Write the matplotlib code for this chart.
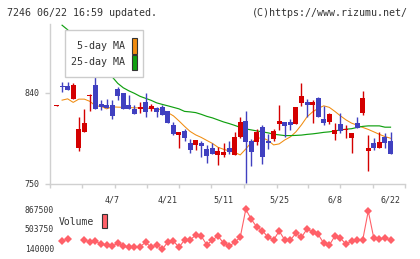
import numpy as np
import matplotlib
matplotlib.use("Agg")
import matplotlib.pyplot as plt
from matplotlib.patches import Rectangle

# ── datos (61 sesiones, 3/24 .. 6/22) ────────────────────────────
opens = [827.5, 847.2, 847.2, 834.4, 785.3, 801.2, 837.0, 847.9, 828.8, 828.4,
         827.9, 844.0, 840.0, 828.2, 824.5, 823.9, 830.8, 824.5, 825.2, 826.2,
         822.2, 808.4, 798.8, 802.4, 790.9, 788.3, 790.6, 784.6, 785.6, 779.0,
         779.0, 785.6, 779.0, 796.2, 812.3, 792.5, 791.6, 806.4, 792.5, 794.8,
         809.7, 811.3, 811.3, 809.7, 829.6, 831.1, 828.5, 835.0, 814.3, 811.6,
         799.8, 809.4, 803.1, 795.5, 810.6, 820.5, 783.0, 790.6, 786.0, 796.5,
         792.5]
highs = [828.5, 850.9, 850.6, 850.2, 816.0, 824.5, 839.0, 855.6, 833.4, 833.8,
         832.8, 845.3, 840.0, 837.4, 828.0, 830.8, 839.7, 828.8, 826.5, 828.0,
         822.2, 811.3, 801.7, 804.1, 794.2, 793.5, 792.8, 788.3, 790.6, 786.3,
         790.9, 792.5, 801.4, 816.3, 822.2, 794.5, 804.7, 808.4, 799.5, 804.4,
         828.2, 811.3, 814.6, 826.2, 850.1, 834.1, 833.1, 836.0, 827.5, 820.3,
         810.4, 820.5, 808.4, 800.4, 816.3, 842.0, 798.8, 795.2, 801.4, 800.4,
         801.4]
lows = [827.5, 841.3, 843.3, 834.4, 782.7, 801.2, 822.5, 824.5, 823.5, 825.5,
        814.6, 832.8, 824.5, 824.5, 819.0, 820.5, 816.0, 821.9, 816.6, 818.0,
        810.6, 798.2, 785.9, 792.3, 781.0, 783.7, 777.0, 771.0, 780.0, 769.1,
        777.0, 779.7, 779.0, 795.2, 750.7, 767.8, 788.3, 769.5, 784.6, 792.8,
        803.4, 796.2, 803.4, 809.7, 827.1, 816.6, 810.4, 816.6, 808.1, 809.7,
        793.8, 800.4, 795.5, 781.0, 805.7, 818.6, 763.2, 784.0, 786.0, 786.0,
        780.0]
closes = [828.5, 845.4, 843.3, 847.9, 804.1, 810.4, 838.0, 824.5, 826.4, 825.5,
          817.0, 836.7, 824.5, 824.5, 819.0, 825.9, 820.9, 827.1, 820.9, 818.0,
          810.6, 799.8, 801.7, 795.8, 783.7, 793.5, 787.6, 777.7, 780.0, 783.0,
          782.0, 781.7, 796.5, 811.3, 791.6, 781.7, 801.7, 777.0, 790.3, 802.4,
          812.3, 807.7, 808.7, 826.2, 837.1, 828.5, 831.1, 816.6, 810.6, 819.3,
          803.4, 802.4, 804.7, 800.4, 805.7, 835.0, 785.6, 786.0, 791.6, 790.9,
          780.0]

ma5 = [np.nan, 832.8, 834.1, 830.6, 833.8, 833.8, 831.6, 827.2, 826.7, 824.2,
       826.2, 825.9, 825.7, 825.5, 825.2, 825.2, 824.9, 824.7, 824.2, 823.2,
       820.5, 817.3, 812.3, 806.9, 801.9, 798.5, 796.0, 793.0, 790.1, 786.3,
       784.3, 782.7, 781.2, 778.7, 784.6, 791.1, 795.0, 795.8, 793.0, 788.6,
       789.6, 793.5, 796.5, 801.5, 808.4, 816.3, 821.2, 824.7, 827.2, 825.7,
       821.7, 817.3, 813.3, 810.1, 808.1, 805.9, 803.9, 801.5, 799.0, 796.8,
       795.2]
ma25 = [np.nan, 906.8, 902.3, 896.4, 890.5, 884.5, 878.6, 872.7, 866.7, 860.8,
        855.8, 849.4, 845.0, 842.0, 839.5, 836.6, 834.6, 832.6, 830.1, 828.6,
        827.2, 825.7, 824.2, 821.7, 821.2, 820.5, 818.8, 816.8, 815.3, 813.3,
        811.3, 809.7, 807.9, 805.9, 804.4, 803.4, 802.4, 801.5, 800.5, 799.2,
        798.5, 797.8, 797.8, 798.0, 798.3, 799.0, 799.5, 800.2, 801.0, 801.5,
        802.4, 803.4, 804.1, 804.6, 805.9, 806.9, 807.4, 807.4, 807.4, 806.1,
        806.1]

volume = [np.nan, 282000, 319000, np.nan, np.nan, 300000, 264000, 282000, 221000, 208000,
          190000, 240000, 184000, 166000, 171000, 177000, 258000, 166000, 208000, 130000,
          264000, 282000, 166000, 300000, 300000, 393000, 374000, 208000, 300000, 374000,
          245000, 184000, 258000, 350000, 867000, 683000, 535000, 472000, 350000, 300000,
          467000, 300000, 300000, 424000, 350000, 504000, 448000, 405000, 240000, 203000,
          374000, 338000, 221000, 282000, 300000, 300000, 836000, 332000, 319000, 332000,
          300000]

date_pos = [10, 20, 30, 40, 50, 60]
date_labels = ["4/7", "4/21", "5/11", "5/25", "6/8", "6/22"]
price_ticks = [750, 840]
vol_ticks = [140000, 503750, 867500]

# ── estilo ───────────────────────────────────────────────────────
MONO = "DejaVu Sans Mono"
TXT = "#333333"
RED = "#d40000"
BLUE = "#4040c0"
ORANGE = "#f08c10"
GREEN = "#10a010"
VOLC = "#ff6068"
AXC = "#d0d0d0"

fig = plt.figure(figsize=(4.2, 2.59), dpi=100)
ax = fig.add_axes([50 / 420, 1 - 184 / 259, 355 / 420, 160 / 259])
axv = fig.add_axes([50 / 420, 1 - 248.7 / 259, 355 / 420, 39.4 / 259])

x = np.arange(len(closes))
o = np.array(opens)
c = np.array(closes)
up = c > o
colors = np.where(up, RED, BLUE)

# velas
ax.vlines(x, lows, highs, colors=colors, linewidth=1.0, zorder=3)
body_lo = np.minimum(o, c)
body_h = np.maximum(np.abs(c - o), 1.0)
ax.bar(x, body_h, bottom=body_lo, width=0.9, color=colors, linewidth=0, zorder=4)

# medias móviles
ax.plot(x, ma5, color=ORANGE, linewidth=0.75, zorder=2)
ax.plot(x, ma25, color=GREEN, linewidth=0.85, zorder=2)

ax.set_xlim(-1.17, 62.6)
ax.set_ylim(750, 908)
for s in ["top", "right"]:
    ax.spines[s].set_visible(False)
for s in ["left", "bottom"]:
    ax.spines[s].set_color(AXC)
    ax.spines[s].set_linewidth(1.0)

ax.set_yticks(price_ticks)
ax.set_yticklabels([str(t) for t in price_ticks], fontsize=6, family=MONO, color=TXT)
ax.tick_params(axis="y", length=3.6, width=1, color=AXC, pad=4)

ax.set_xticks(date_pos)
ax.set_xticklabels(date_labels, fontsize=6, family=MONO, color=TXT)
ax.tick_params(axis="x", which="major", length=0, pad=8)
ax.set_xticks([-1.17, 4.58, 10.51, 16.26, 22.0, 27.75, 33.68, 39.61,
               45.18, 50.93, 56.86, 62.6], minor=True)
ax.tick_params(axis="x", which="minor", length=3, width=1, color=AXC)

# leyenda MA
fig.patches.append(Rectangle((65 / 420, 1 - 77 / 259), 78 / 420, 47 / 259,
                             transform=fig.transFigure, facecolor="white",
                             edgecolor="#cccccc", linewidth=1.0, zorder=10))
fig.text(125 / 420, 1 - 46 / 259, "5-day MA", ha="right", va="center",
         fontsize=7.2, family=MONO, color=TXT, zorder=11)
fig.text(125 / 420, 1 - 62 / 259, "25-day MA", ha="right", va="center",
         fontsize=7.2, family=MONO, color=TXT, zorder=11)
fig.patches.append(Rectangle((131.5 / 420, 1 - 53.5 / 259), 5.5 / 420, 16 / 259,
                             transform=fig.transFigure, facecolor=ORANGE,
                             edgecolor="#333333", linewidth=0.8, zorder=11))
fig.patches.append(Rectangle((131.5 / 420, 1 - 69.5 / 259), 5.5 / 420, 15 / 259,
                             transform=fig.transFigure, facecolor=GREEN,
                             edgecolor="#333333", linewidth=0.8, zorder=11))

# volumen
axv.plot(x, volume, color=VOLC, linewidth=0.8, marker="D", markersize=4.0,
         markeredgewidth=0, clip_on=False)
axv.set_xlim(-1.17, 62.6)
axv.set_ylim(140000, 867500)
for s in axv.spines.values():
    s.set_visible(False)
axv.set_xticks([])
axv.set_yticks(vol_ticks)
axv.set_yticklabels([str(t) for t in vol_ticks], fontsize=5.8, family=MONO, color=TXT)
axv.tick_params(axis="y", length=0, pad=-3)
axv.patch.set_alpha(0)

fig.text(59 / 420, 1 - 222 / 259, "Volume", ha="left", va="center",
         fontsize=7, family=MONO, color=TXT)
fig.patches.append(Rectangle((101.5 / 420, 1 - 228 / 259), 6 / 420, 14.5 / 259,
                             transform=fig.transFigure, facecolor=VOLC,
                             edgecolor="#333333", linewidth=0.8))

# cabecera
fig.text(7 / 420, 1 - 13 / 259, "7246 06/22 16:59 updated.", ha="left",
         va="center", fontsize=7.2, family=MONO, color=TXT)
fig.text(408 / 420, 1 - 13 / 259, "(C)https://www.rizumu.net/", ha="right",
         va="center", fontsize=7.2, family=MONO, color=TXT)

fig.savefig("out.png", dpi=100)
plt.close(fig)
